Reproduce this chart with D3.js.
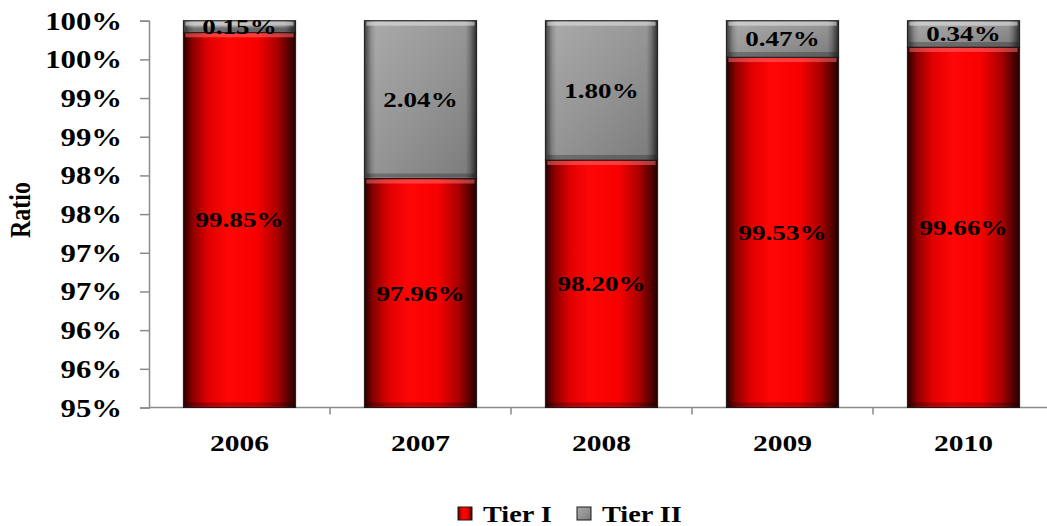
<!DOCTYPE html>
<html>
<head>
<meta charset="utf-8">
<script src="https://cdn.jsdelivr.net/npm/d3@7/dist/d3.min.js"></script>
<style>
  html, body { margin: 0; padding: 0; background: #ffffff; }
  svg { display: block; }
  text { font-family: "Liberation Serif", "Times New Roman", serif; font-weight: bold; fill: #000; }
</style>
</head>
<body>
<svg id="chart" width="1047" height="526"></svg>
<script>
const years = ["2006", "2007", "2008", "2009", "2010"];
const tier1 = [99.85, 97.96, 98.20, 99.53, 99.66];
const tier2 = [0.15, 2.04, 1.80, 0.47, 0.34];
const tier1Labels = ["99.85%", "97.96%", "98.20%", "99.53%", "99.66%"];
const tier2Labels = ["0.15%", "2.04%", "1.80%", "0.47%", "0.34%"];
const yTicks = [95, 95.5, 96, 96.5, 97, 97.5, 98, 98.5, 99, 99.5, 100];
const yTickLabels = ["95%", "96%", "96%", "97%", "97%", "98%", "98%", "99%", "99%", "100%", "100%"];
const seriesNames = ["Tier I", "Tier II"];
const yTitle = "Ratio";

const SX = 1.23; // horizontal stretch of the original picture

const svg = d3.select("#chart");
const defs = svg.append("defs");

// gradients
const redG = defs.append("linearGradient").attr("id", "redG").attr("x1", 0).attr("x2", 1).attr("y1", 0).attr("y2", 0);
[[0, "#2a0000"], [0.08, "#8a0000"], [0.22, "#e00000"], [0.4, "#ff0606"], [0.66, "#f60000"], [0.84, "#a80000"], [1, "#250000"]]
  .forEach(([o, c]) => redG.append("stop").attr("offset", o).attr("stop-color", c));

const greyG = defs.append("linearGradient").attr("id", "greyG").attr("x1", 0).attr("x2", 1).attr("y1", 0).attr("y2", 1);
[[0, "#ababab"], [0.5, "#959595"], [1, "#7a7a7a"]]
  .forEach(([o, c]) => greyG.append("stop").attr("offset", o).attr("stop-color", c));

const edgeG = defs.append("linearGradient").attr("id", "edgeG").attr("x1", 0).attr("x2", 1).attr("y1", 0).attr("y2", 0);
[[0, "rgba(0,0,0,0.65)"], [0.06, "rgba(0,0,0,0.15)"], [0.1, "rgba(0,0,0,0)"], [0.9, "rgba(0,0,0,0)"], [0.94, "rgba(0,0,0,0.2)"], [1, "rgba(0,0,0,0.7)"]]
  .forEach(([o, c]) => edgeG.append("stop").attr("offset", o).attr("stop-color", c));

const x = d3.scaleBand().domain(years).range([149, 1054]).paddingInner(0.38).paddingOuter(0.19);
const y = d3.scaleLinear().domain([95, 100]).range([407.5, 20.7]);

// y axis
const yAxis = svg.append("g").attr("transform", "translate(149,0)")
  .call(d3.axisLeft(y).tickValues(yTicks).tickSize(9).tickPadding(18).tickFormat((d, i) => yTickLabels[i]));
yAxis.attr("font-family", null).attr("font-size", null);
yAxis.select(".domain").attr("stroke", "#8a8a8a").attr("stroke-width", 1.5);
yAxis.selectAll(".tick line").attr("stroke", "#8a8a8a").attr("stroke-width", 1.5);
yAxis.selectAll(".tick text").each(function () {
  const t = d3.select(this);
  const xx = +t.attr("x");
  t.attr("x", null).attr("dy", null)
    .attr("transform", `translate(${xx},8.5) scale(${SX},1)`)
    .attr("font-size", 25).attr("fill", "#000")
    .attr("text-anchor", "end");
});

// x axis
const xAxisG = svg.append("g").attr("transform", "translate(0,407.5)");
xAxisG.append("line").attr("x1", 149).attr("x2", 1054).attr("y1", 0).attr("y2", 0)
  .attr("stroke", "#8a8a8a").attr("stroke-width", 1.5);
const step = x.step();
years.forEach((yr) => {
  const bx = x(yr) - x.paddingInner() * step / 2 + step;
  xAxisG.append("line").attr("x1", bx).attr("x2", bx).attr("y1", 0).attr("y2", 7)
    .attr("stroke", "#8a8a8a").attr("stroke-width", 1.5);
});
years.forEach(yr => {
  svg.append("text")
    .attr("transform", `translate(${x(yr) + x.bandwidth() / 2},451) scale(${SX},1)`)
    .attr("text-anchor", "middle").attr("font-size", 24).text(yr);
});

// y title
svg.append("text")
  .attr("transform", `translate(30,210) scale(${SX},1) rotate(-90)`)
  .attr("text-anchor", "middle").attr("font-size", 24).text(yTitle);

function bar(g, x0, y0, w, h, kind) {
  const grp = g.append("g");
  grp.append("rect").attr("x", x0).attr("y", y0).attr("width", w).attr("height", h)
    .attr("fill", kind === "red" ? "url(#redG)" : "url(#greyG)");
  if (kind === "grey") {
    grp.append("rect").attr("x", x0).attr("y", y0).attr("width", w).attr("height", h).attr("fill", "url(#edgeG)");
  }
  const bv = Math.min(4, h / 3);
  grp.append("rect").attr("x", x0 + 2).attr("y", y0 + 1).attr("width", w - 4).attr("height", bv)
    .attr("fill", kind === "red" ? "rgba(255,120,120,0.5)" : "rgba(230,230,230,0.55)");
  grp.append("rect").attr("x", x0 + 2).attr("y", y0 + h - bv - 1).attr("width", w - 4).attr("height", bv)
    .attr("fill", "rgba(0,0,0,0.25)");
  grp.append("rect").attr("x", x0).attr("y", y0).attr("width", w).attr("height", h)
    .attr("fill", "none").attr("stroke", "#1a1a1a").attr("stroke-width", 1);
}

const bars = svg.append("g");
years.forEach((yr, i) => {
  const bx = x(yr), bw = x.bandwidth();
  const t1 = y(tier1[i]);
  const top = y(tier1[i] + tier2[i]);
  bar(bars, bx, t1, bw, y(95) - t1, "red");
  bar(bars, bx, top, bw, t1 - top, "grey");
});

// labels
years.forEach((yr, i) => {
  const cx = x(yr) + x.bandwidth() / 2;
  const m1 = (y(95) + y(tier1[i])) / 2;
  const m2 = (y(tier1[i]) + y(tier1[i] + tier2[i])) / 2;
  svg.append("text").attr("transform", `translate(${cx},${m1 + 7.5}) scale(${SX},1)`)
    .attr("text-anchor", "middle").attr("font-size", 22).text(tier1Labels[i]);
  svg.append("text").attr("transform", `translate(${cx},${m2 + 7.5}) scale(${SX},1)`)
    .attr("text-anchor", "middle").attr("font-size", 22).text(tier2Labels[i]);
});

// legend
const legend = svg.append("g");
const legItems = [{ name: seriesNames[0], x: 458, fill: "url(#redG)" }, { name: seriesNames[1], x: 577, fill: "url(#greyG)" }];
legItems.forEach(it => {
  legend.append("rect").attr("x", it.x).attr("y", 507).attr("width", 14).attr("height", 13)
    .attr("fill", it.fill).attr("stroke", "#1a1a1a").attr("stroke-width", 1);
  legend.append("text").attr("transform", `translate(${it.x + 25},521.5) scale(${SX},1)`)
    .attr("font-size", 23).text(it.name);
});
</script>
</body>
</html>
